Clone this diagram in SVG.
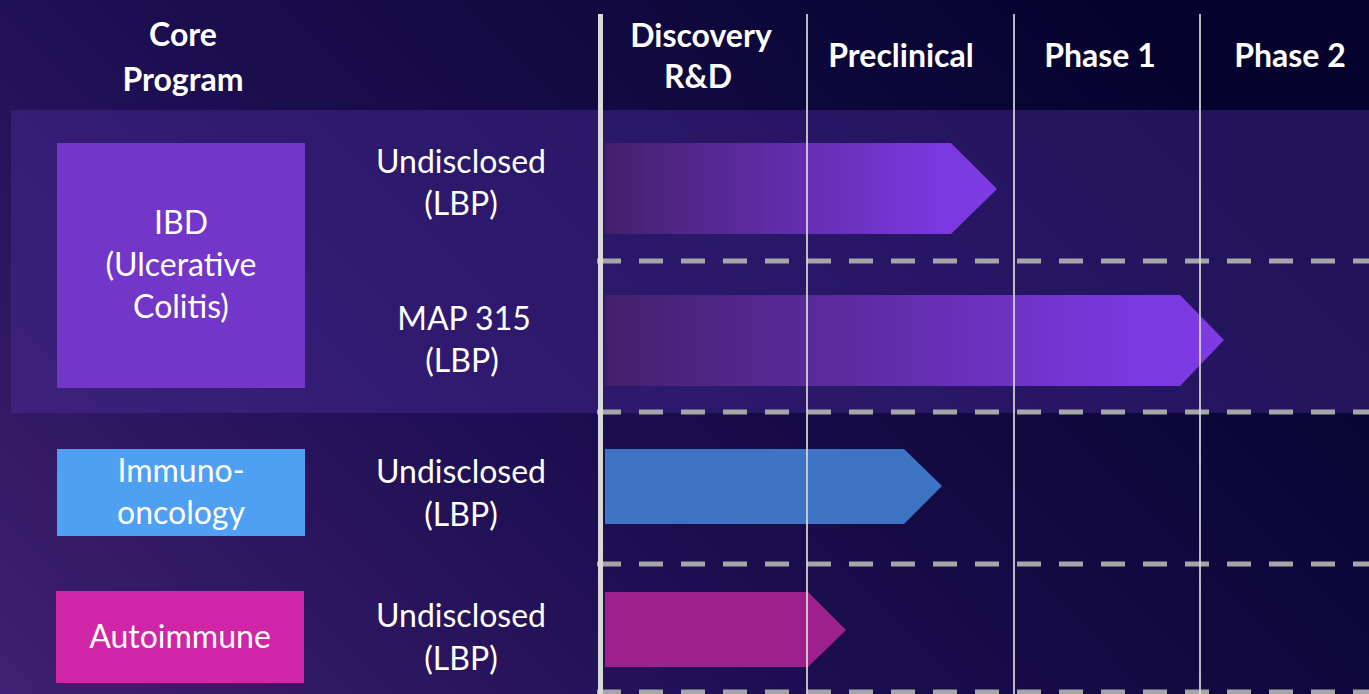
<svg xmlns="http://www.w3.org/2000/svg" width="1369" height="694" viewBox="0 0 1369 694">
  <defs>
    <linearGradient id="bg" gradientUnits="userSpaceOnUse" x1="0" y1="694" x2="900" y2="-200">
      <stop offset="0" stop-color="#3f1f71"/>
      <stop offset="0.45" stop-color="#1c0e50"/>
      <stop offset="1" stop-color="#05032e"/>
    </linearGradient>
    <linearGradient id="barPurple" x1="0" y1="0" x2="1" y2="0">
      <stop offset="0" stop-color="#43206c"/>
      <stop offset="0.85" stop-color="#7b38de"/>
      <stop offset="1" stop-color="#7f3ae3"/>
    </linearGradient>
    <style>
      .hdr { font-family: Lato, "Liberation Sans", sans-serif; font-weight: 700; font-size: 32px; fill: #ffffff; text-anchor: middle; }
      .lbl { font-family: Lato, "Liberation Sans", sans-serif; font-weight: 400; font-size: 32px; fill: #ffffff; text-anchor: middle; }
      .vline { stroke: #d9d9d9; stroke-width: 2; stroke-opacity: 0.85; }
      .dash { stroke: #a6a6a6; stroke-width: 5; stroke-dasharray: 24 18; }
    </style>
  </defs>

  <rect x="0" y="0" width="1369" height="694" fill="url(#bg)"/>
  <!-- IBD band -->
  <rect id="ibd-band" x="11" y="110" width="1358" height="303" fill="#4d2ca0" fill-opacity="0.4"/>

  <!-- Header -->
  <g id="header">
    <text class="hdr" x="183" y="46">Core</text>
    <text class="hdr" x="183" y="91">Program</text>
    <text class="hdr" x="701" y="47">Discovery</text>
    <text class="hdr" x="698" y="88">R&amp;D</text>
    <text class="hdr" x="901" y="67">Preclinical</text>
    <text class="hdr" x="1100" y="67">Phase 1</text>
    <text class="hdr" x="1290" y="67">Phase 2</text>
  </g>

  <!-- Program nodes -->
  <g id="node-ibd">
    <rect x="57" y="143" width="248" height="245" fill="#7236c8"/>
    <text class="lbl" x="181" y="234">IBD</text>
    <text class="lbl" x="181" y="276">(Ulcerative</text>
    <text class="lbl" x="181" y="318">Colitis)</text>
  </g>
  <g id="node-immuno">
    <rect x="57" y="449" width="248" height="87" fill="#4fa0f2"/>
    <text class="lbl" x="181" y="482">Immuno-</text>
    <text class="lbl" x="181" y="524">oncology</text>
  </g>
  <g id="node-autoimmune">
    <rect x="56" y="591" width="248" height="92" fill="#d025a6"/>
    <text class="lbl" x="180" y="648">Autoimmune</text>
  </g>

  <g id="asset-1">
    <text class="lbl" x="461" y="173">Undisclosed</text>
    <text class="lbl" x="461" y="215">(LBP)</text>
  </g>
  <g id="asset-2">
    <text class="lbl" x="464" y="330">MAP 315</text>
    <text class="lbl" x="462" y="372">(LBP)</text>
  </g>
  <g id="asset-3">
    <text class="lbl" x="461" y="483">Undisclosed</text>
    <text class="lbl" x="461" y="526">(LBP)</text>
  </g>
  <g id="asset-4">
    <text class="lbl" x="461" y="627">Undisclosed</text>
    <text class="lbl" x="461" y="670">(LBP)</text>
  </g>

  <!-- Progress bars -->
  <g id="bar-1"><polygon points="605,143 951,143 997,189 951,234 605,234" fill="url(#barPurple)"/></g>
  <g id="bar-2"><polygon points="605,295 1180,295 1224,340 1180,386 605,386" fill="url(#barPurple)"/></g>
  <g id="bar-3"><polygon points="605,449 904,449 942,486 904,524 605,524" fill="#3d74c3"/></g>
  <g id="bar-4"><polygon points="605,592 808,592 846,630 808,667 605,667" fill="#9d208c"/></g>

  <!-- Grid lines -->
  <g id="connectors">
    <line class="dash" x1="597" y1="261" x2="1369" y2="261"/>
    <line class="dash" x1="597" y1="412" x2="1369" y2="412"/>
    <line class="dash" x1="597" y1="564" x2="1369" y2="564"/>
    <line class="dash" x1="597" y1="692" x2="1369" y2="692"/>
    <line class="vline" x1="807" y1="14" x2="807" y2="694"/>
    <line class="vline" x1="1014" y1="14" x2="1014" y2="694"/>
    <line class="vline" x1="1200" y1="14" x2="1200" y2="694"/>
    <line x1="600.5" y1="14" x2="600.5" y2="694" stroke="#d9d9d9" stroke-width="5"/>
  </g>
</svg>
